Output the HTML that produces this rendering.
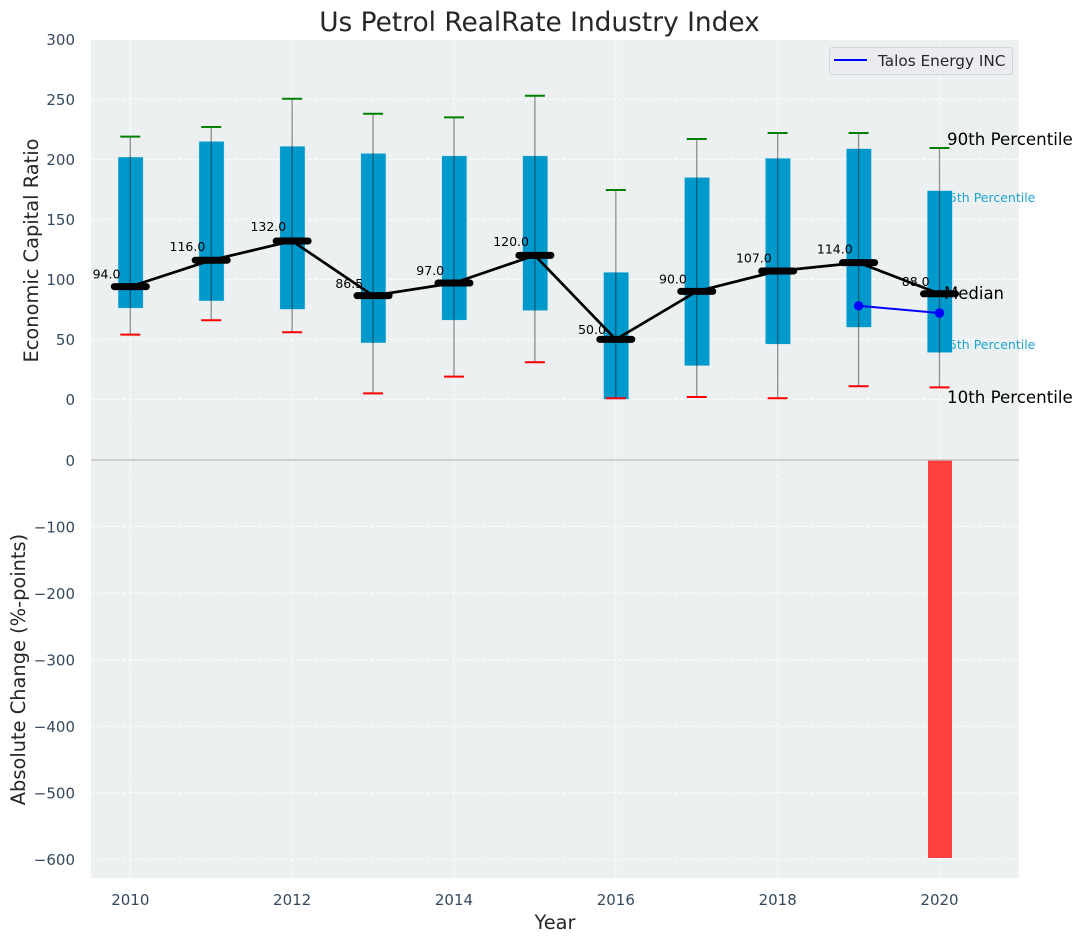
<!DOCTYPE html>
<html lang="en">
<head>
<meta charset="utf-8">
<title>Us Petrol RealRate Industry Index</title>
<style>
html,body{margin:0;padding:0;background:#fff;}
svg{display:block;font-family:"DejaVu Sans","Liberation Sans",sans-serif;}
</style>
</head>
<body>
<svg id="chart" xmlns="http://www.w3.org/2000/svg" width="1082" height="942" viewBox="0 0 1082 942">
  <rect x="0" y="0" width="1082" height="942" fill="#ffffff"/>
  <rect x="91" y="40" width="928" height="420" fill="#ecf0f1"/>
  <rect x="91" y="460" width="928" height="418" fill="#ecf0f1"/>
  <g id="grid"></g>
  <text x="941" y="202" font-size="12.5" fill="#1fa3d1">75th Percentile</text>
  <text x="941" y="349" font-size="12.5" fill="#1fa3d1">25th Percentile</text>
  <g id="bars"></g>
  <g id="boxes"></g>
  <g id="value-labels"></g>
  <text x="944" y="299" font-size="16.5" fill="#000">Median</text>
  <g id="series"></g>
  <text x="947" y="145" font-size="16.67" fill="#000">90th Percentile</text>
  <text x="947" y="403" font-size="16.67" fill="#000">10th Percentile</text>
  <line x1="91" x2="1019" y1="460" y2="460" stroke="#bdbdbd" stroke-width="1.3"/>
  <g id="ticks"></g>
  <text x="539.5" y="31" font-size="26.4" fill="#262626" text-anchor="middle">Us Petrol RealRate Industry Index</text>
  <text x="555" y="929" font-size="19.4" fill="#262626" text-anchor="middle">Year</text>
  <text transform="translate(38,250.5) rotate(-90)" font-size="19.4" fill="#262626" text-anchor="middle">Economic Capital Ratio</text>
  <text transform="translate(25,669.5) rotate(-90)" font-size="19.4" fill="#262626" text-anchor="middle">Absolute Change (%-points)</text>
  <g>
    <rect x="829.5" y="47.5" width="183" height="27" rx="3" fill="#eaecf0" stroke="#d2d4d6" stroke-width="1"/>
    <line x1="834" x2="867" y1="60" y2="60" stroke="#0000ff" stroke-width="2"/>
    <text x="878" y="66" font-size="15.28" fill="#262626">Talos Energy INC</text>
  </g>
</svg>
<script>
const years = [2010, 2011, 2012, 2013, 2014, 2015, 2016, 2017, 2018, 2019, 2020];
const p10 = [54, 66, 56, 5, 19, 31, 1, 2, 1, 11, 10];
const p25 = [76, 82, 75, 47, 66, 74, 0, 28, 46, 60, 39];
const medians = [94, 116, 132, 86.5, 97, 120, 50, 90, 107, 114, 88];
const p75 = [202, 215, 211, 205, 203, 203, 106, 185, 201, 209, 174];
const p90 = [219, 227, 250.5, 238, 235, 253, 174.5, 217, 222, 222, 209.5];
const talosYears = [2019, 2020];
const talosValues = [78, 72];
const changeYears = [2020];
const changeValues = [-598];
const xTicks = [2010, 2012, 2014, 2016, 2018, 2020];
const yTicksTop = [0, 50, 100, 150, 200, 250, 300];
const yTicksBottom = [0, -100, -200, -300, -400, -500, -600];

const NS = 'http://www.w3.org/2000/svg';
const xPos = function (year) { return 130.3 + (year - 2010) * 80.92; };
const yTop = function (v) { return 399.4 - v * 1.2; };
const yBottom = function (v) { return 460 - v * 0.6655; };
const fmtTick = function (v) { return v < 0 ? '\u2212' + Math.abs(v) : String(v); };

function mk(tag, attrs, parentId) {
  const el = document.createElementNS(NS, tag);
  Object.keys(attrs).forEach(function (k) { el.setAttribute(k, attrs[k]); });
  document.getElementById(parentId).appendChild(el);
  return el;
}

const gridStyle = { stroke: '#ffffff', 'stroke-width': 1, 'stroke-dasharray': '4 2.2', 'stroke-opacity': 0.9 };

xTicks.forEach(function (t) {
  const a = mk('line', Object.assign({ x1: xPos(t), x2: xPos(t), y1: 40, y2: 878 }, gridStyle), 'grid');
  
  
  const lab = mk('text', { x: xPos(t), y: 905, 'font-size': 15, fill: '#34495e', 'text-anchor': 'middle' }, 'ticks');
  lab.textContent = String(t);
  
  
});

yTicksTop.forEach(function (t) {
  const a = mk('line', Object.assign({ x1: 91, x2: 1019, y1: yTop(t), y2: yTop(t) }, gridStyle), 'grid');
  
  
  const lab = mk('text', { x: 75, y: yTop(t) + 5.8, 'font-size': 15, fill: '#34495e', 'text-anchor': 'end' }, 'ticks');
  lab.textContent = fmtTick(t);
  
  
});

yTicksBottom.forEach(function (t) {
  const a = mk('line', Object.assign({ x1: 91, x2: 1019, y1: yBottom(t), y2: yBottom(t) }, gridStyle), 'grid');
  
  
  const lab = mk('text', { x: 75, y: yBottom(t) + 5.8, 'font-size': 15, fill: '#34495e', 'text-anchor': 'end' }, 'ticks');
  lab.textContent = fmtTick(t);
  
  
});

changeYears.forEach(function (yr, i) {
  const v = changeValues[i];
  const b = mk('rect', { x: xPos(yr) - 11.5, y: Math.min(yBottom(0), yBottom(v)), width: 24, height: Math.abs(yBottom(v) - yBottom(0)), fill: '#ff4040' }, 'bars');
  
  
});

years.forEach(function (yr, i) {
  const cx = xPos(yr);
  const box = mk('rect', { x: cx - 12.3, y: yTop(p75[i]), width: 25.2, height: yTop(p25[i]) - yTop(p75[i]), fill: '#0099cc', stroke: '#cfe6ee', 'stroke-width': 0.5 }, 'boxes');
  
  

  const w = mk('line', { x1: cx, x2: cx, y1: yTop(p90[i]), y2: yTop(p10[i]), stroke: '#000000', 'stroke-opacity': 0.42, 'stroke-width': 1.3 }, 'boxes');
  
  

  const hi = mk('line', { x1: cx - 10, x2: cx + 10, y1: yTop(p90[i]), y2: yTop(p90[i]), stroke: '#008000', 'stroke-width': 2 }, 'boxes');
  
  

  const lo = mk('line', { x1: cx - 10, x2: cx + 10, y1: yTop(p10[i]), y2: yTop(p10[i]), stroke: '#ff0000', 'stroke-width': 2 }, 'boxes');
  
  

  const lab = mk('text', { x: cx - 23.8, y: yTop(medians[i] * 1.05) - 2.3, 'font-size': 12.5, fill: '#000000', 'text-anchor': 'middle' }, 'value-labels');
  lab.textContent = medians[i].toFixed(1);
  
  
});

const medianLine = mk('polyline', {
  points: years.map(function (yr, i) { return xPos(yr) + ',' + yTop(medians[i]); }).join(' '),
  fill: 'none', stroke: '#000000', 'stroke-width': 2.7, 'stroke-linejoin': 'round'
}, 'series');



years.forEach(function (yr, i) {
  const cx = xPos(yr);
  const m = mk('line', { x1: cx - 16, x2: cx + 16, y1: yTop(medians[i]), y2: yTop(medians[i]), stroke: '#000000', 'stroke-width': 7, 'stroke-linecap': 'round' }, 'series');
  
  
});

const talosLine = mk('polyline', {
  points: talosYears.map(function (yr, i) { return xPos(yr) + ',' + yTop(talosValues[i]); }).join(' '),
  fill: 'none', stroke: '#0000ff', 'stroke-width': 2
}, 'series');



talosYears.forEach(function (yr, i) {
  const p = mk('circle', { cx: xPos(yr), cy: yTop(talosValues[i]), r: 4.7, fill: '#0000ff' }, 'series');
  
  
});
</script>
</body>
</html>
